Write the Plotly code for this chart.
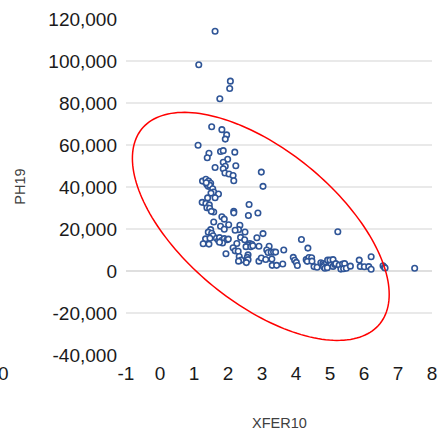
import math
import plotly.graph_objects as go

# ---- data ----
xfer10 = [1.62, 1.14, 2.07, 2.05, 1.76, 1.52, 1.82, 1.96, 1.92, 1.12,
          1.78, 1.86, 2.20, 1.44, 1.39, 1.99, 1.86, 1.92, 1.62, 2.23,
          1.86, 1.91, 2.03, 2.15, 2.17, 2.98, 3.03, 1.25, 1.35, 1.43,
          1.49, 1.38, 1.42, 1.46, 1.36, 1.55, 1.58, 1.50, 1.72, 1.62,
          1.40, 1.24, 1.35, 1.45, 2.62, 1.38, 1.46, 1.58, 1.51, 2.17,
          2.17, 2.88, 2.60, 1.58, 1.82, 1.89, 2.02, 1.78, 1.89, 2.35,
          2.31, 2.21, 2.50, 1.49, 1.42, 1.52, 1.56, 1.34, 1.47, 1.27,
          1.44, 1.66, 1.72, 1.75, 1.81, 1.89, 1.97, 2.01, 1.84, 1.75,
          2.37, 2.85, 3.03, 2.49, 2.64, 2.70, 2.59, 2.53, 2.67, 2.73,
          2.26, 2.15, 2.21, 1.94, 2.30, 2.33, 2.39, 2.31, 2.59, 2.57,
          2.59, 2.54, 2.91, 2.98, 2.91, 3.21, 3.14, 3.18, 3.27, 3.34,
          3.40, 3.11, 3.29, 3.30, 3.43, 3.61, 3.64, 4.16, 4.35, 3.92,
          3.96, 4.01, 4.04, 4.30, 4.38, 4.46, 4.33, 4.47, 4.53, 4.62,
          4.73, 4.79, 4.83, 4.88, 4.93, 5.00, 5.09, 4.95, 5.02, 5.09,
          5.14, 4.81, 4.85, 4.92, 5.17, 5.23, 5.27, 5.37, 5.43, 5.32,
          5.40, 5.48, 5.60, 5.86, 6.21, 5.89, 6.01, 6.14, 6.21, 6.56,
          6.60, 6.62, 7.49]
ph19 = [114200, 98200, 90400, 86900, 82000, 68700, 67300, 64800, 62800, 59900,
        56900, 57300, 56600, 56100, 53900, 53200, 51800, 49900, 49300, 50100,
        48700, 46700, 46200, 45500, 43000, 47100, 40300, 42800, 43700, 42800,
        41800, 41200, 40300, 40900, 42000, 39200, 37600, 37100, 36700, 34900,
        34800, 32700, 32200, 31500, 31700, 30100, 29900, 28100, 28400, 28400,
        27700, 27600, 26400, 23300, 25800, 24700, 22000, 21300, 19900, 21800,
        19700, 19400, 18600, 19700, 18500, 18000, 16800, 15300, 15600, 13000,
        12800, 15600, 14500, 15900, 14500, 15400, 14900, 15200, 13300, 13700,
        16000, 15800, 17800, 14900, 13100, 12700, 12300, 11600, 11600, 12000,
        13100, 11100, 9600, 8200, 9400, 6900, 5200, 4700, 7700, 6500,
        5400, 4000, 4700, 6200, 11800, 11800, 10000, 8800, 8900, 9000,
        9000, 5500, 5700, 2700, 2700, 3300, 10000, 15000, 10900, 6500,
        5100, 4100, 2600, 5400, 6400, 6300, 4600, 4700, 2100, 1800,
        3900, 3600, 3100, 3300, 5200, 5200, 5400, 2400, 2800, 2200,
        3100, 2000, 1300, 1600, 3500, 18700, 2800, 3300, 3500, 900,
        1100, 1300, 2300, 5200, 6800, 2200, 2000, 2100, 800, 2500,
        1800, 1400, 1300]

x_ticks = [-1, 0, 1, 2, 3, 4, 5, 6, 7, 8]
y_ticks = [-40000, -20000, 0, 20000, 40000, 60000, 80000, 100000, 120000]
y_tick_labels = ["-40,000", "-20,000", "0", "20,000", "40,000", "60,000",
                 "80,000", "100,000", "120,000"]

W, H = 446, 435
ML, MR, MT, MB = 126, 9, 18, 80
PW, PH = W - ML - MR, H - MT - MB

FONT = "Liberation Sans"
TICK_COLOR = "#1a1a1a"
TITLE_COLOR = "#404040"
GRID = "#e2e2e2"

fig = go.Figure()
fig.add_trace(go.Scatter(
    x=xfer10, y=ph19, mode="markers",
    marker=dict(symbol="circle", size=5.5, color="white",
                line=dict(color="#2F5597", width=1.6)),
    showlegend=False, hoverinfo="x+y",
))

shapes = []
# horizontal gridlines (the outermost ones are not drawn in the reference)
for v in y_ticks[1:-1]:
    shapes.append(dict(type="line", xref="paper", yref="y", x0=0, x1=1, y0=v, y1=v,
                       line=dict(color="#d4d4d4" if v == 0 else GRID, width=1.4),
                       layer="below"))

# red ellipse annotation (drawn in screen space, rotated)
cx, cy = 263.0, 226.0       # screen px
a, b = 155.5, 77.0
th = math.radians(38.75)
pts = []
for i in range(181):
    t = 2 * math.pi * i / 180
    X = cx + a * math.cos(th) * math.cos(t) - b * math.sin(th) * math.sin(t)
    Y = cy + a * math.sin(th) * math.cos(t) + b * math.cos(th) * math.sin(t)
    pts.append(((X - ML) / PW, (H - MB - Y) / PH))
path = "M " + " L ".join(f"{px:.5f},{py:.5f}" for px, py in pts) + " Z"
shapes.append(dict(type="path", xref="paper", yref="paper", path=path,
                   line=dict(color="#FF0000", width=1.5), layer="above"))

fig.update_layout(
    width=W, height=H,
    margin=dict(l=ML, r=MR, t=MT, b=MB, pad=0),
    paper_bgcolor="white", plot_bgcolor="white",
    font=dict(family=FONT, size=19, color=TICK_COLOR),
    shapes=shapes,
    xaxis=dict(range=[-1, 8], tickvals=x_ticks, ticktext=[str(v) for v in x_ticks],
               showgrid=False, zeroline=False, showline=False, ticks="",
               ticklabelstandoff=5, tickfont=dict(size=19, color=TICK_COLOR)),
    yaxis=dict(range=[-40000, 120000], tickvals=y_ticks, ticktext=y_tick_labels,
               showgrid=False, zeroline=False, showline=False, ticks="",
               ticklabelstandoff=8, tickfont=dict(size=19, color=TICK_COLOR)),
    annotations=[
        dict(text="PH19", xref="paper", yref="paper", x=(18 - ML) / PW, y=0.5,
             textangle=-90, showarrow=False, xanchor="center", yanchor="middle",
             font=dict(family=FONT, size=14.5, color=TITLE_COLOR)),
        dict(text="XFER10", xref="paper", yref="paper", x=0.5, y=(H - MB - 423) / PH,
             showarrow=False, xanchor="center", yanchor="middle",
             font=dict(family=FONT, size=14.5, color=TITLE_COLOR)),
        dict(text="0", xref="paper", yref="paper", x=(1 - ML) / PW, y=(H - MB - 374) / PH,
             showarrow=False, xanchor="center", yanchor="middle",
             font=dict(family=FONT, size=19, color=TICK_COLOR)),
    ],
)

fig.write_html("out.html", config={"displayModeBar": False},
               post_script="document.body.style.margin='0';document.body.style.overflow='hidden';")
